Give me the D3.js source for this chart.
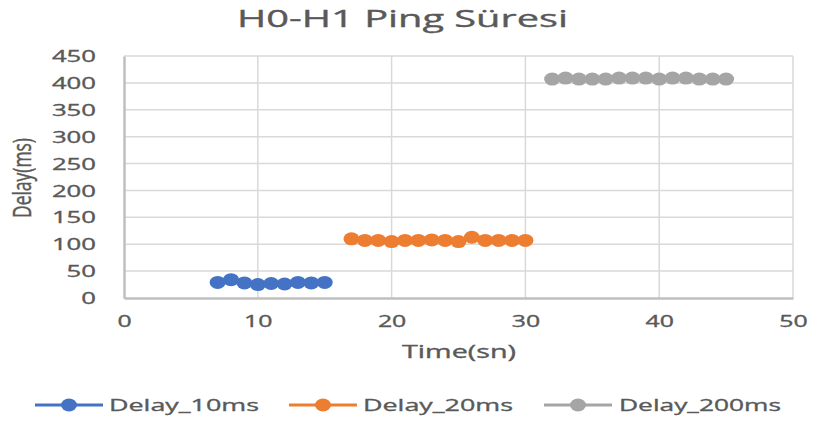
<!DOCTYPE html>
<html>
<head>
<meta charset="utf-8">
<script src="https://cdn.jsdelivr.net/npm/d3@7"></script>
<style>
  html, body { margin: 0; padding: 0; background: #fff; }
  svg { display: block; }
  text { font-family: "Open Sans", "Noto Sans", sans-serif; fill: #595959; stroke: #595959; stroke-width: 0.35px; }
</style>
</head>
<body>
<svg id="chart" width="813" height="423"></svg>
<script>
// Ping delay samples (ms) per link delay setting, keyed by time (sn)
const time10 = [7, 8, 9, 10, 11, 12, 13, 14, 15];
const delay10 = [29, 34, 28, 25, 27, 26, 29, 28, 29];

const time20 = [17, 18, 19, 20, 21, 22, 23, 24, 25, 26, 27, 28, 29, 30];
const delay20 = [110, 107, 107, 105, 107, 107, 108, 107, 105, 113, 107, 107, 107, 107];

const time200 = [32, 33, 34, 35, 36, 37, 38, 39, 40, 41, 42, 43, 44, 45];
const delay200 = [407, 409, 407, 407, 407, 409, 409, 409, 407, 409, 409, 407, 407, 407];

const seriesNames = ["Delay_10ms", "Delay_20ms", "Delay_200ms"];
const seriesColors = ["#4472c4", "#ed7d31", "#a5a5a5"];
const xTicks = [0, 10, 20, 30, 40, 50];
const yTicks = [0, 50, 100, 150, 200, 250, 300, 350, 400, 450];

const series = [
  { name: seriesNames[0], color: seriesColors[0], pts: time10.map((t, i) => [t, delay10[i]]) },
  { name: seriesNames[1], color: seriesColors[1], pts: time20.map((t, i) => [t, delay20[i]]) },
  { name: seriesNames[2], color: seriesColors[2], pts: time200.map((t, i) => [t, delay200[i]]) }
];

const svg = d3.select("#chart");
const plot = { left: 124, right: 793, top: 56, bottom: 298 };

const x = d3.scaleLinear().domain([0, 50]).range([plot.left, plot.right]);
const y = d3.scaleLinear().domain([0, 450]).range([plot.bottom, plot.top]);

// Title
svg.append("text")
  .attr("x", 402.5).attr("y", 27)
  .attr("text-anchor", "middle")
  .attr("font-size", 23)
  .attr("textLength", 331).attr("lengthAdjust", "spacingAndGlyphs")
  .text("H0-H1 Ping Süresi");

// Gridlines
const grid = svg.append("g");
grid.selectAll("line.h").data(yTicks.filter(v => v > 0)).join("line")
  .attr("x1", plot.left).attr("x2", plot.right)
  .attr("y1", d => y(d)).attr("y2", d => y(d))
  .attr("stroke", "#d9d9d9").attr("stroke-width", 1.5);
grid.selectAll("line.v").data(xTicks.filter(v => v > 0)).join("line")
  .attr("x1", d => x(d)).attr("x2", d => x(d))
  .attr("y1", plot.top).attr("y2", plot.bottom)
  .attr("stroke", "#d9d9d9").attr("stroke-width", 1.5);

// Axes
const yAxis = svg.append("g")
  .attr("transform", `translate(${plot.left},0)`)
  .call(d3.axisLeft(y).tickValues(yTicks).tickSize(0).tickPadding(28));
yAxis.select(".domain").attr("stroke", "#bfbfbf").attr("stroke-width", 2.5);
yAxis.selectAll("text")
  .attr("font-size", 15.5).attr("fill", "#595959")
  .attr("font-family", "'Open Sans', sans-serif")
  .attr("dy", "0.36em")
  .attr("textLength", d => String(d).length * 14.7)
  .attr("lengthAdjust", "spacingAndGlyphs");

const xAxis = svg.append("g")
  .attr("transform", `translate(0,${plot.bottom})`)
  .call(d3.axisBottom(x).tickValues(xTicks).tickSize(0).tickPadding(18));
xAxis.select(".domain").attr("stroke", "#bfbfbf").attr("stroke-width", 2.5);
xAxis.selectAll("text")
  .attr("font-size", 15.5).attr("fill", "#595959")
  .attr("font-family", "'Open Sans', sans-serif")
  .attr("textLength", d => String(d).length * 14.2)
  .attr("lengthAdjust", "spacingAndGlyphs");

// Axis titles
svg.append("text")
  .attr("x", 459).attr("y", 358)
  .attr("text-anchor", "middle")
  .attr("font-size", 18)
  .attr("textLength", 114).attr("lengthAdjust", "spacingAndGlyphs")
  .text("Time(sn)");

svg.append("text")
  .attr("transform", "translate(31,178) scale(1.3,1) rotate(-90)")
  .attr("text-anchor", "middle")
  .attr("font-size", 19)
  .attr("textLength", 80).attr("lengthAdjust", "spacingAndGlyphs")
  .text("Delay(ms)");

// Series lines and markers
const line = d3.line().x(d => x(d[0])).y(d => y(d[1]));
const marks = svg.append("g");
series.forEach(s => {
  const g = marks.append("g");
  g.append("path")
    .attr("d", line(s.pts))
    .attr("fill", "none")
    .attr("stroke", s.color)
    .attr("stroke-width", 3);
  g.selectAll("ellipse").data(s.pts).join("ellipse")
    .attr("cx", d => x(d[0])).attr("cy", d => y(d[1]))
    .attr("rx", 8).attr("ry", 6.5)
    .attr("fill", s.color);
});

// Legend
const legendItems = [
  { start: 35, textX: 109, width: 150 },
  { start: 289, textX: 363, width: 150 },
  { start: 544, textX: 619, width: 162 }
];
const legend = svg.append("g");
series.forEach((s, i) => {
  const it = legendItems[i];
  const ly = 405;
  legend.append("line")
    .attr("x1", it.start).attr("x2", it.start + 68)
    .attr("y1", ly).attr("y2", ly)
    .attr("stroke", s.color).attr("stroke-width", 3);
  legend.append("ellipse")
    .attr("cx", it.start + 34).attr("cy", ly)
    .attr("rx", 8).attr("ry", 6.5)
    .attr("fill", s.color);
  legend.append("text")
    .attr("x", it.textX).attr("y", ly + 6)
    .attr("font-size", 17)
    .attr("textLength", it.width).attr("lengthAdjust", "spacingAndGlyphs")
    .text(s.name);
});
</script>
</body>
</html>
